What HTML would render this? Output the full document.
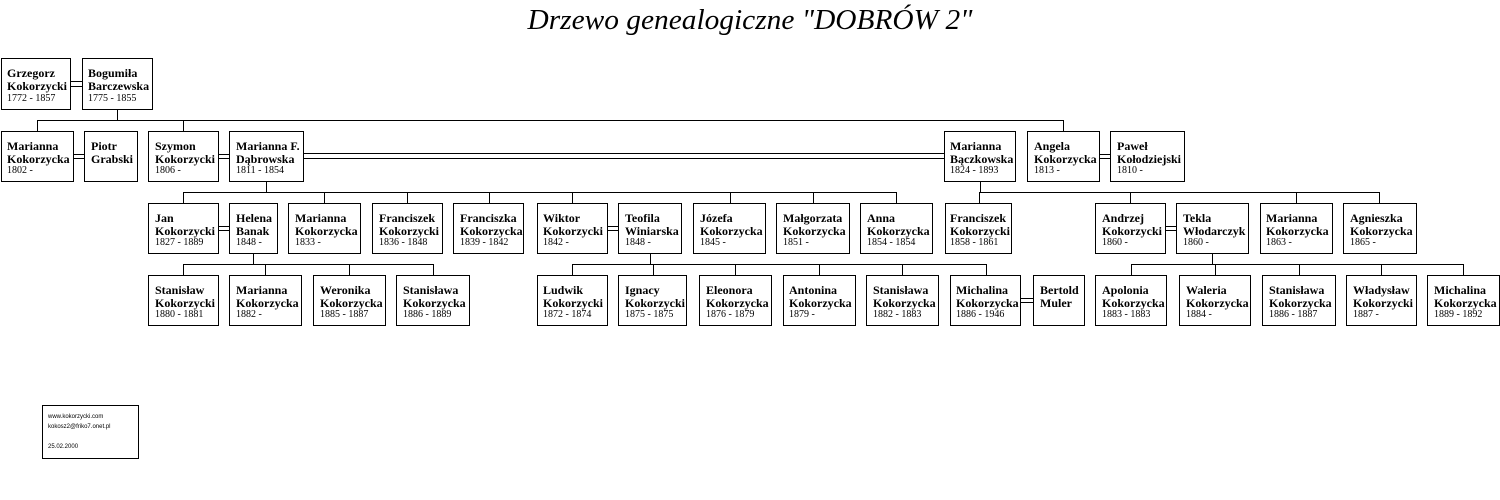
<!DOCTYPE html>
<html><head><meta charset="utf-8"><style>
html,body{margin:0;padding:0;background:#fff;}
svg{display:block;}
.n{font-family:"Liberation Serif",serif;font-weight:bold;font-size:12px;fill:#000;}
.d{font-family:"Liberation Serif",serif;font-size:10px;fill:#000;}
.f{font-family:"Liberation Sans",sans-serif;font-size:6px;fill:#000;}
rect{fill:#fff;stroke:#000;stroke-width:1;}
line{stroke:#000;stroke-width:1;}
</style></head><body>
<svg width="1500" height="500" viewBox="0 0 1500 500" shape-rendering="crispEdges">
<text x="750" y="29" text-anchor="middle" font-family="Liberation Serif,serif" font-style="italic" font-size="29" textLength="445" lengthAdjust="spacingAndGlyphs">Drzewo genealogiczne "DOBRÓW 2"</text>

<!-- connectors -->
<g>
<line x1="117.5" y1="109" x2="117.5" y2="120.5"/>
<line x1="37.5" y1="120.5" x2="1063.5" y2="120.5"/>
<line x1="37.5" y1="120" x2="37.5" y2="131"/>
<line x1="183.5" y1="120" x2="183.5" y2="131"/>
<line x1="1063.5" y1="120" x2="1063.5" y2="131"/>

<line x1="266.5" y1="181" x2="266.5" y2="192.5"/>
<line x1="183.5" y1="192.5" x2="896.5" y2="192.5"/>
<line x1="183.5" y1="192" x2="183.5" y2="203"/>
<line x1="324.5" y1="192" x2="324.5" y2="203"/>
<line x1="407.5" y1="192" x2="407.5" y2="203"/>
<line x1="489.5" y1="192" x2="489.5" y2="203"/>
<line x1="572.5" y1="192" x2="572.5" y2="203"/>
<line x1="730.5" y1="192" x2="730.5" y2="203"/>
<line x1="813.5" y1="192" x2="813.5" y2="203"/>
<line x1="896.5" y1="192" x2="896.5" y2="203"/>

<line x1="980.5" y1="181" x2="980.5" y2="192.5"/>
<line x1="979.5" y1="192.5" x2="1379.5" y2="192.5"/>
<line x1="979.5" y1="192" x2="979.5" y2="203"/>
<line x1="1130.5" y1="192" x2="1130.5" y2="203"/>
<line x1="1296.5" y1="192" x2="1296.5" y2="203"/>
<line x1="1379.5" y1="192" x2="1379.5" y2="203"/>

<line x1="253.5" y1="253" x2="253.5" y2="264.5"/>
<line x1="183.5" y1="264.5" x2="433.5" y2="264.5"/>
<line x1="183.5" y1="264" x2="183.5" y2="275"/>
<line x1="265.5" y1="264" x2="265.5" y2="275"/>
<line x1="349.5" y1="264" x2="349.5" y2="275"/>
<line x1="433.5" y1="264" x2="433.5" y2="275"/>

<line x1="650.5" y1="253" x2="650.5" y2="264.5"/>
<line x1="572.5" y1="264.5" x2="986.5" y2="264.5"/>
<line x1="572.5" y1="264" x2="572.5" y2="275"/>
<line x1="653.5" y1="264" x2="653.5" y2="275"/>
<line x1="735.5" y1="264" x2="735.5" y2="275"/>
<line x1="819.5" y1="264" x2="819.5" y2="275"/>
<line x1="902.5" y1="264" x2="902.5" y2="275"/>
<line x1="986.5" y1="264" x2="986.5" y2="275"/>

<line x1="1212.5" y1="253" x2="1212.5" y2="264.5"/>
<line x1="1131.5" y1="264.5" x2="1463.5" y2="264.5"/>
<line x1="1131.5" y1="264" x2="1131.5" y2="275"/>
<line x1="1215.5" y1="264" x2="1215.5" y2="275"/>
<line x1="1299.5" y1="264" x2="1299.5" y2="275"/>
<line x1="1381.5" y1="264" x2="1381.5" y2="275"/>
<line x1="1463.5" y1="264" x2="1463.5" y2="275"/>

<!-- marriage double lines -->
<line x1="70" y1="81.5" x2="82" y2="81.5"/><line x1="70" y1="86.5" x2="82" y2="86.5"/>
<line x1="73" y1="154.5" x2="84" y2="154.5"/><line x1="73" y1="158.5" x2="84" y2="158.5"/>
<line x1="218" y1="154.5" x2="229" y2="154.5"/><line x1="218" y1="158.5" x2="229" y2="158.5"/>
<line x1="303" y1="153.5" x2="944" y2="153.5"/><line x1="303" y1="158.5" x2="944" y2="158.5"/>
<line x1="1099" y1="154.5" x2="1110" y2="154.5"/><line x1="1099" y1="158.5" x2="1110" y2="158.5"/>
<line x1="218" y1="226.5" x2="229" y2="226.5"/><line x1="218" y1="230.5" x2="229" y2="230.5"/>
<line x1="607" y1="226.5" x2="618" y2="226.5"/><line x1="607" y1="230.5" x2="618" y2="230.5"/>
<line x1="1165" y1="226.5" x2="1176" y2="226.5"/><line x1="1165" y1="230.5" x2="1176" y2="230.5"/>
<line x1="1020" y1="298.5" x2="1033" y2="298.5"/><line x1="1020" y1="302.5" x2="1033" y2="302.5"/>
</g>

<!-- Row 0 -->
<rect x="1.5" y="58.5" width="69" height="51"/><text class="n" x="7" y="77">Grzegorz</text><text class="n" x="7" y="90">Kokorzycki</text><text class="d" x="7" y="101">1772 - 1857</text>
<rect x="82.5" y="58.5" width="70" height="51"/><text class="n" x="88" y="77">Bogumiła</text><text class="n" x="88" y="90">Barczewska</text><text class="d" x="88" y="101">1775 - 1855</text>

<!-- Row 1 -->
<rect x="1.5" y="131.5" width="72" height="50"/><text class="n" x="7" y="150">Marianna</text><text class="n" x="7" y="163">Kokorzycka</text><text class="d" x="7" y="173">1802 -</text>
<rect x="84.5" y="131.5" width="53" height="50"/><text class="n" x="91" y="150">Piotr</text><text class="n" x="91" y="163">Grabski</text>
<rect x="148.5" y="131.5" width="70" height="50"/><text class="n" x="155" y="150">Szymon</text><text class="n" x="155" y="163">Kokorzycki</text><text class="d" x="155" y="173">1806 -</text>
<rect x="229.5" y="131.5" width="74" height="50"/><text class="n" x="236" y="150">Marianna F.</text><text class="n" x="236" y="163">Dąbrowska</text><text class="d" x="236" y="173">1811 - 1854</text>
<rect x="944.5" y="131.5" width="71" height="50"/><text class="n" x="950" y="150">Marianna</text><text class="n" x="950" y="163">Bączkowska</text><text class="d" x="950" y="173">1824 - 1893</text>
<rect x="1027.5" y="131.5" width="72" height="50"/><text class="n" x="1034" y="150">Angela</text><text class="n" x="1034" y="163">Kokorzycka</text><text class="d" x="1034" y="173">1813 -</text>
<rect x="1110.5" y="131.5" width="74" height="50"/><text class="n" x="1117" y="150">Paweł</text><text class="n" x="1117" y="163">Kołodziejski</text><text class="d" x="1117" y="173">1810 -</text>

<!-- Row 2 -->
<rect x="148.5" y="203.5" width="70" height="50"/><text class="n" x="155" y="222">Jan</text><text class="n" x="155" y="235">Kokorzycki</text><text class="d" x="155" y="245">1827 - 1889</text>
<rect x="229.5" y="203.5" width="48" height="50"/><text class="n" x="236" y="222">Helena</text><text class="n" x="236" y="235">Banak</text><text class="d" x="236" y="245">1848 -</text>
<rect x="288.5" y="203.5" width="72" height="50"/><text class="n" x="295" y="222">Marianna</text><text class="n" x="295" y="235">Kokorzycka</text><text class="d" x="295" y="245">1833 -</text>
<rect x="372.5" y="203.5" width="70" height="50"/><text class="n" x="379" y="222">Franciszek</text><text class="n" x="379" y="235">Kokorzycki</text><text class="d" x="379" y="245">1836 - 1848</text>
<rect x="453.5" y="203.5" width="70" height="50"/><text class="n" x="460" y="222">Franciszka</text><text class="n" x="460" y="235">Kokorzycka</text><text class="d" x="460" y="245">1839 - 1842</text>
<rect x="537.5" y="203.5" width="70" height="50"/><text class="n" x="543" y="222">Wiktor</text><text class="n" x="543" y="235">Kokorzycki</text><text class="d" x="543" y="245">1842 -</text>
<rect x="618.5" y="203.5" width="63" height="50"/><text class="n" x="625" y="222">Teofila</text><text class="n" x="625" y="235">Winiarska</text><text class="d" x="625" y="245">1848 -</text>
<rect x="693.5" y="203.5" width="72" height="50"/><text class="n" x="700" y="222">Józefa</text><text class="n" x="700" y="235">Kokorzycka</text><text class="d" x="700" y="245">1845 -</text>
<rect x="776.5" y="203.5" width="73" height="50"/><text class="n" x="783" y="222">Małgorzata</text><text class="n" x="783" y="235">Kokorzycka</text><text class="d" x="783" y="245">1851 -</text>
<rect x="860.5" y="203.5" width="72" height="50"/><text class="n" x="867" y="222">Anna</text><text class="n" x="867" y="235">Kokorzycka</text><text class="d" x="867" y="245">1854 - 1854</text>
<rect x="945.5" y="203.5" width="66" height="50"/><text class="n" x="950" y="222">Franciszek</text><text class="n" x="950" y="235">Kokorzycki</text><text class="d" x="950" y="245">1858 - 1861</text>
<rect x="1095.5" y="203.5" width="70" height="50"/><text class="n" x="1102" y="222">Andrzej</text><text class="n" x="1102" y="235">Kokorzycki</text><text class="d" x="1102" y="245">1860 -</text>
<rect x="1176.5" y="203.5" width="72" height="50"/><text class="n" x="1183" y="222">Tekla</text><text class="n" x="1183" y="235">Włodarczyk</text><text class="d" x="1183" y="245">1860 -</text>
<rect x="1260.5" y="203.5" width="72" height="50"/><text class="n" x="1266" y="222">Marianna</text><text class="n" x="1266" y="235">Kokorzycka</text><text class="d" x="1266" y="245">1863 -</text>
<rect x="1343.5" y="203.5" width="73" height="50"/><text class="n" x="1350" y="222">Agnieszka</text><text class="n" x="1350" y="235">Kokorzycka</text><text class="d" x="1350" y="245">1865 -</text>

<!-- Row 3 -->
<rect x="148.5" y="275.5" width="70" height="50"/><text class="n" x="155" y="294">Stanisław</text><text class="n" x="155" y="307">Kokorzycki</text><text class="d" x="155" y="317">1880 - 1881</text>
<rect x="229.5" y="275.5" width="72" height="50"/><text class="n" x="236" y="294">Marianna</text><text class="n" x="236" y="307">Kokorzycka</text><text class="d" x="236" y="317">1882 -</text>
<rect x="313.5" y="275.5" width="72" height="50"/><text class="n" x="320" y="294">Weronika</text><text class="n" x="320" y="307">Kokorzycka</text><text class="d" x="320" y="317">1885 - 1887</text>
<rect x="396.5" y="275.5" width="73" height="50"/><text class="n" x="403" y="294">Stanisława</text><text class="n" x="403" y="307">Kokorzycka</text><text class="d" x="403" y="317">1886 - 1889</text>
<rect x="537.5" y="275.5" width="70" height="50"/><text class="n" x="543" y="294">Ludwik</text><text class="n" x="543" y="307">Kokorzycki</text><text class="d" x="543" y="317">1872 - 1874</text>
<rect x="618.5" y="275.5" width="68" height="50"/><text class="n" x="625" y="294">Ignacy</text><text class="n" x="625" y="307">Kokorzycki</text><text class="d" x="625" y="317">1875 - 1875</text>
<rect x="699.5" y="275.5" width="72" height="50"/><text class="n" x="706" y="294">Eleonora</text><text class="n" x="706" y="307">Kokorzycka</text><text class="d" x="706" y="317">1876 - 1879</text>
<rect x="783.5" y="275.5" width="72" height="50"/><text class="n" x="789" y="294">Antonina</text><text class="n" x="789" y="307">Kokorzycka</text><text class="d" x="789" y="317">1879 -</text>
<rect x="866.5" y="275.5" width="72" height="50"/><text class="n" x="873" y="294">Stanisława</text><text class="n" x="873" y="307">Kokorzycka</text><text class="d" x="873" y="317">1882 - 1883</text>
<rect x="950.5" y="275.5" width="70" height="50"/><text class="n" x="956" y="294">Michalina</text><text class="n" x="956" y="307">Kokorzycka</text><text class="d" x="956" y="317">1886 - 1946</text>
<rect x="1033.5" y="275.5" width="51" height="50"/><text class="n" x="1040" y="294">Bertold</text><text class="n" x="1040" y="307">Muler</text>
<rect x="1095.5" y="275.5" width="71" height="50"/><text class="n" x="1102" y="294">Apolonia</text><text class="n" x="1102" y="307">Kokorzycka</text><text class="d" x="1102" y="317">1883 - 1883</text>
<rect x="1179.5" y="275.5" width="71" height="50"/><text class="n" x="1186" y="294">Waleria</text><text class="n" x="1186" y="307">Kokorzycka</text><text class="d" x="1186" y="317">1884 -</text>
<rect x="1262.5" y="275.5" width="73" height="50"/><text class="n" x="1269" y="294">Stanisława</text><text class="n" x="1269" y="307">Kokorzycka</text><text class="d" x="1269" y="317">1886 - 1887</text>
<rect x="1346.5" y="275.5" width="70" height="50"/><text class="n" x="1353" y="294">Władysław</text><text class="n" x="1353" y="307">Kokorzycki</text><text class="d" x="1353" y="317">1887 -</text>
<rect x="1427.5" y="275.5" width="72" height="50"/><text class="n" x="1434" y="294">Michalina</text><text class="n" x="1434" y="307">Kokorzycka</text><text class="d" x="1434" y="317">1889 - 1892</text>

<!-- footer -->
<rect x="42.5" y="405.5" width="96" height="53"/>
<text class="f" x="48" y="418">www.kokorzycki.com</text>
<text class="f" x="48" y="428">kokosz2@friko7.onet.pl</text>
<text class="f" x="48" y="448">25.02.2000</text>
</svg>
</body></html>
